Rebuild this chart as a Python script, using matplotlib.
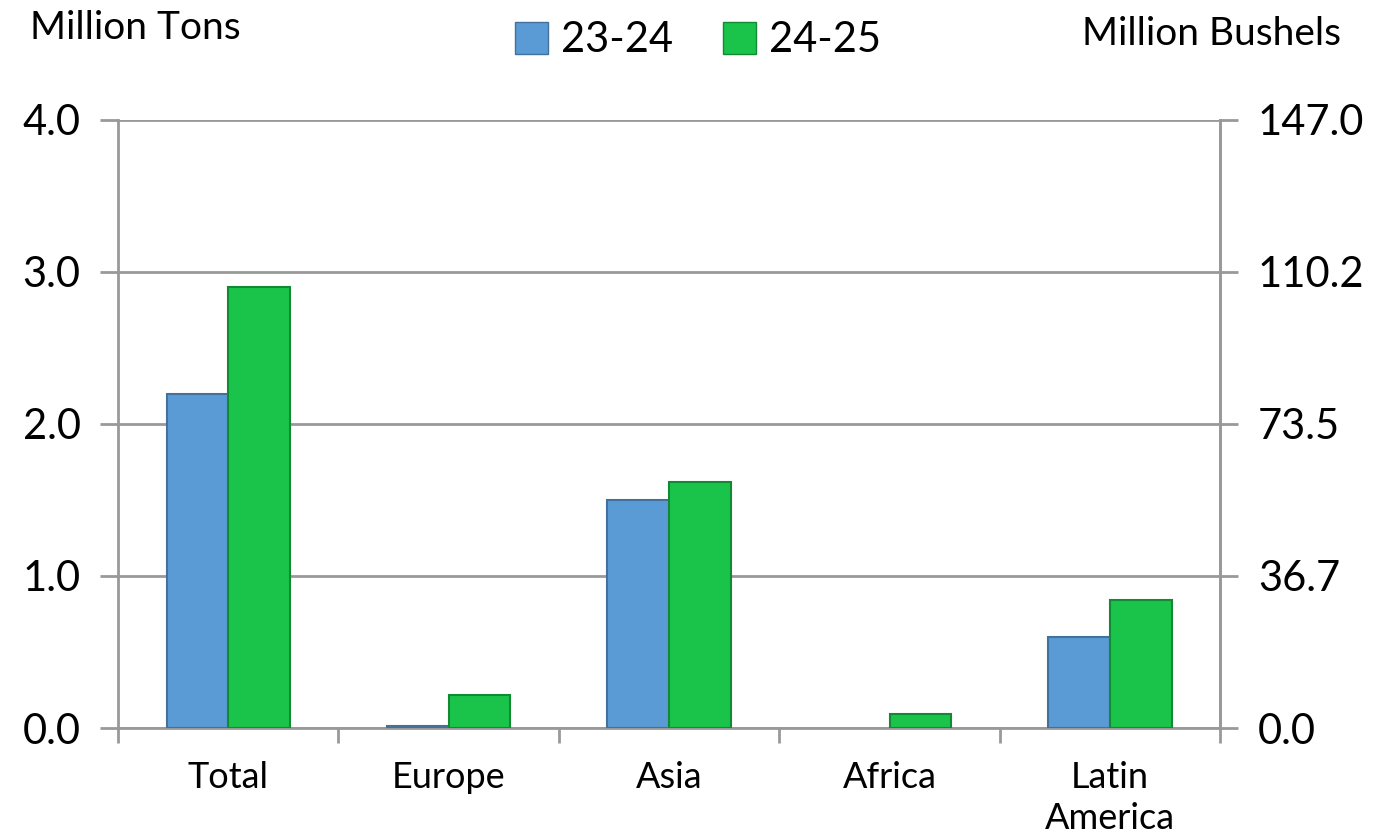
import numpy as np
import matplotlib.pyplot as plt
from matplotlib.patches import Patch

# data
regions = ["Total", "Europe", "Asia", "Africa", "Latin\nAmerica"]
exports_2324 = [2.2, 0.01, 1.5, 0.0, 0.6]
exports_2425 = [2.9, 0.22, 1.62, 0.09, 0.84]
left_ticks = [0.0, 1.0, 2.0, 3.0, 4.0]
right_labels = ["0.0", "36.7", "73.5", "110.2", "147.0"]

BLUE = "#5b9bd5"
BLUE_EDGE = "#41719c"
GREEN = "#1ac44a"
GREEN_EDGE = "#118a33"
GRAY = "#999999"

plt.rcParams['font.family'] = ['Lato', 'DejaVu Sans']

fig = plt.figure(figsize=(13.74, 8.39), dpi=100)
ax = fig.add_axes([0.0859, 0.1323, 0.8022, 0.7247])

x = np.arange(len(regions))
w = 0.28
bars1 = ax.bar(x - w / 2, exports_2324, w, color=BLUE, edgecolor=BLUE_EDGE, linewidth=1.5, zorder=3)
bars2 = ax.bar(x + w / 2, exports_2425, w, color=GREEN, edgecolor=GREEN_EDGE, linewidth=1.5, zorder=3)
# zero-height bars leave no outline in the original
for b in list(bars1) + list(bars2):
    if b.get_height() == 0:
        b.set_edgecolor("none")

ax.set_xlim(-0.5, len(regions) - 0.5)
ax.set_ylim(0, 4.0)
ax.set_yticks(left_ticks)
ax.set_yticklabels([f"{v:.1f}" for v in left_ticks], fontsize=30)
ax.yaxis.grid(True, color=GRAY, linewidth=2, zorder=0)

ax.set_xticks(x)
ax.set_xticklabels(regions, fontsize=26, linespacing=1.3)
ax.set_xticks(np.arange(len(regions) + 1) - 0.5, minor=True)
ax.tick_params(axis='x', which='major', length=0, pad=24)
ax.tick_params(axis='x', which='minor', length=11, width=2, color=GRAY)
ax.tick_params(axis='y', length=13, width=2, color=GRAY, pad=14)

ax.spines["top"].set_visible(False)
for side in ["left", "bottom", "right"]:
    ax.spines[side].set_color(GRAY)
    ax.spines[side].set_linewidth(2)

ax2 = ax.twinx()
ax2.set_ylim(0, 147.0)
ax2.set_yticks([0, 36.75, 73.5, 110.25, 147.0])
ax2.set_yticklabels(right_labels, fontsize=30)
ax2.tick_params(axis='y', length=13, width=2, color=GRAY, pad=14)
for side in ["top", "left", "bottom"]:
    ax2.spines[side].set_visible(False)
ax2.spines["right"].set_color(GRAY)
ax2.spines["right"].set_linewidth(2)

fig.text(0.022, 0.967, "Million Tons", fontsize=28, ha="left", va="center")
fig.text(0.976, 0.960, "Million Bushels", fontsize=28, ha="right", va="center")

handles = [Patch(facecolor=BLUE, edgecolor=BLUE_EDGE, label="23-24"),
           Patch(facecolor=GREEN, edgecolor=GREEN_EDGE, label="24-25")]
fig.legend(handles=handles, loc="center", bbox_to_anchor=(0.508, 0.952), ncol=2,
           frameon=False, fontsize=30, handlelength=0.8, handleheight=0.8,
           handletextpad=0.3, columnspacing=1.2)

fig.savefig("out.png", dpi=100)
